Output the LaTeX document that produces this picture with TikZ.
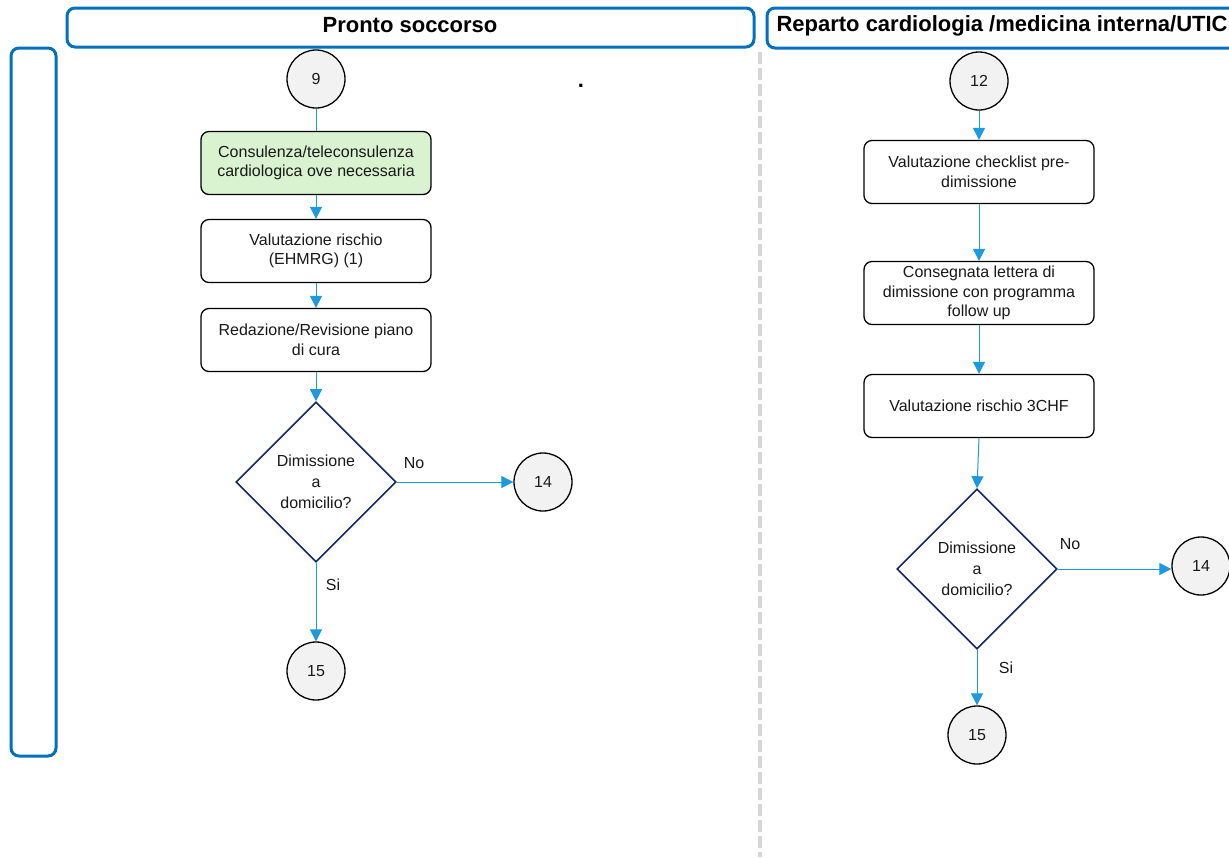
\documentclass[tikz,border=0pt]{standalone}
\usepackage{fontspec}
\setmainfont{Liberation Sans}
\usetikzlibrary{shapes.geometric,arrows.meta}
\definecolor{laneblue}{RGB}{0,112,192}
\definecolor{flowblue}{RGB}{27,154,224}
\definecolor{connfill}{RGB}{242,242,242}
\definecolor{greenfill}{RGB}{217,242,208}
\definecolor{diamondblue}{RGB}{16,40,100}
\definecolor{sepgray}{RGB}{214,214,214}
\tikzset{
  lane/.style={draw=laneblue, line width=3pt, rounded corners=8pt},
  lanetitle/.style={font=\fontsize{22}{26}\selectfont\bfseries, text=black},
  procbox/.style={draw=black, line width=1.3pt, rounded corners=8pt, minimum width=230pt,
    minimum height=63pt, align=center, inner sep=2pt,
    font=\fontsize{16}{19.5}\selectfont, text=black!90},
  connector/.style={circle, draw=black, line width=1.3pt, fill=connfill, minimum size=58pt,
    inner sep=0pt, font=\fontsize{16}{19}\selectfont, text=black!90},
  decision/.style={diamond, draw=diamondblue, line width=1.6pt, minimum width=160pt,
    minimum height=160pt, inner sep=0pt, align=center,
    font=\fontsize{16}{21}\selectfont, text=black!90},
  flow/.style={draw=flowblue, line width=1pt, -{Triangle[length=12pt,width=12pt]}},
  plainflow/.style={draw=flowblue, line width=1pt},
  edgelabel/.style={font=\fontsize{16}{19}\selectfont, text=black!90}
}
\begin{document}
\begin{tikzpicture}[x=1pt,y=-1pt]
\useasboundingbox (0,0) rectangle (1229,857);
\fill[white] (0,0) rectangle (1229,857);

% swimlane headers and left band
\begin{scope}
\clip (0,0) rectangle (1229,857);
\draw[lane] (67,8) rectangle (754,47);
\draw[lane] (767,8) rectangle (1250,48);
\end{scope}
\draw[lane] (11,48) rectangle (56,756);
\node[lanetitle] (tps) at (410,25) {Pronto soccorso};
\node[lanetitle, anchor=west] (trep) at (773,26) {Reparto cardiologia /medicina interna/UTIC};

% lane separator
\draw[sepgray, line width=4pt, dash pattern=on 12pt off 4pt] (760,52) -- (760,857);

\node[font=\fontsize{22}{26}\selectfont\bfseries] (dot) at (581,86) {.};

% Pronto soccorso column
\node[connector] (c9) at (316,79) {9};
\node[procbox, fill=greenfill] (cons) at (316,163) {Consulenza/teleconsulenza\\cardiologica ove necessaria};
\node[procbox] (ehmrg) at (316,251) {Valutazione rischio\\(EHMRG) (1)};
\node[procbox] (piano) at (316,340) {Redazione/Revisione piano\\di cura};
\node[decision] (dec1) at (316,482) {Dimissione\\a\\domicilio?};
\node[connector] (c14a) at (543,482) {14};
\node[connector] (c15a) at (316,671) {15};

\draw[plainflow] (c9) -- (cons);
\draw[flow] (cons) -- (ehmrg);
\draw[flow] (ehmrg) -- (piano);
\draw[flow] (piano) -- (dec1);
\draw[flow] (dec1.east) -- (c14a);
\draw[flow] (dec1.south) -- (c15a);
\node[edgelabel] (no1) at (414,463) {No};
\node[edgelabel] (si1) at (333,585) {Si};

% Reparto column
\node[connector] (c12) at (979,81) {12};
\node[procbox] (check) at (979,172) {Valutazione checklist pre-\\dimissione};
\node[procbox] (lett) at (979,293) {Consegnata lettera di\\dimissione con programma\\follow up};
\node[procbox] (chf) at (979,406) {Valutazione rischio 3CHF};
\node[decision] (dec2) at (977,569) {Dimissione\\a\\domicilio?};
\node[connector] (c14b) at (1201,566) {14};
\node[connector] (c15b) at (977,735) {15};

\draw[flow] (c12) -- (check);
\draw[flow] (check) -- (lett);
\draw[flow] (lett) -- (chf);
\draw[flow] (chf.south) -- (dec2.north);
\draw[flow] (dec2.east) -- (c14b.west |- dec2.east);
\draw[flow] (dec2.south) -- (c15b);
\node[edgelabel] (no2) at (1070,544) {No};
\node[edgelabel] (si2) at (1006,668) {Si};
\end{tikzpicture}
\end{document}
